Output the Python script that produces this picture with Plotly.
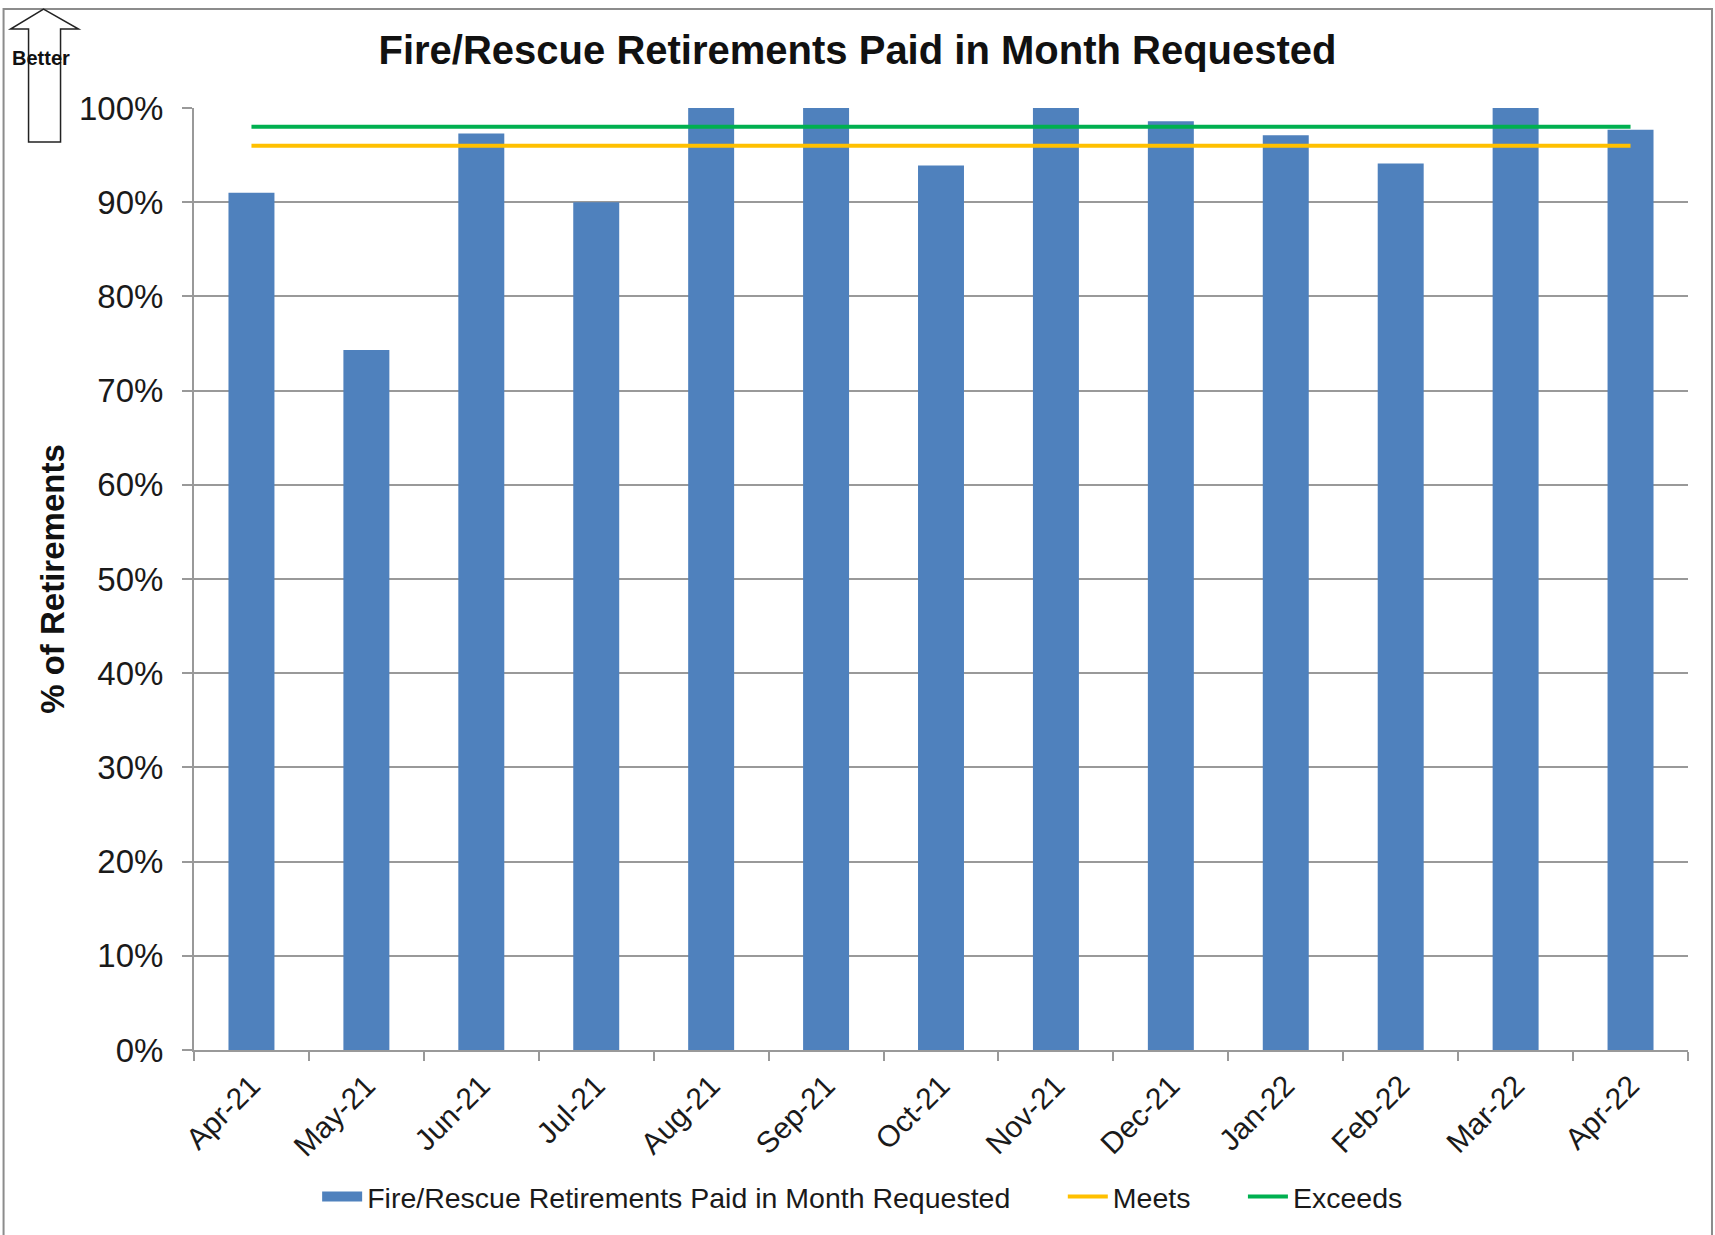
import plotly.graph_objects as go

months = ["Apr-21", "May-21", "Jun-21", "Jul-21", "Aug-21", "Sep-21", "Oct-21",
          "Nov-21", "Dec-21", "Jan-22", "Feb-22", "Mar-22", "Apr-22"]
paid_pct = [0.910, 0.743, 0.973, 0.900, 1.000, 1.000, 0.939,
            1.000, 0.986, 0.971, 0.941, 1.000, 0.977]
meets = [0.96] * len(months)
exceeds = [0.98] * len(months)
y_ticks = [0, 0.1, 0.2, 0.3, 0.4, 0.5, 0.6, 0.7, 0.8, 0.9, 1.0]

BAR_NAME = "Fire/Rescue Retirements Paid in Month Requested"
PAD = "\u00a0" * 6

FONT = "Liberation Sans, Arial, sans-serif"
GRID = "#999999"
BAR_COLOR = "#4F81BD"

# plot area in pixels
L, R, T, B = 193.5, 1688, 108, 1050.5
W, H = R - L, B - T
FIG_W, FIG_H = 1715, 1235


def px(x):
    return (x - L) / W


def py(y):
    return (B - y) / H


fig = go.Figure()
fig.add_trace(go.Bar(
    x=months, y=paid_pct, name=BAR_NAME, showlegend=False,
    marker=dict(color=BAR_COLOR, line=dict(width=0)),
))
# legend entry for the bars (wide rectangle swatch, as in the original)
fig.add_trace(go.Scatter(
    x=[None], y=[None], name=BAR_NAME + PAD, mode="lines",
    line=dict(color=BAR_COLOR, width=14), hoverinfo="skip",
))
fig.add_trace(go.Scatter(
    x=months, y=meets, name="Meets" + PAD, mode="lines",
    line=dict(color="#FFC000", width=4),
))
fig.add_trace(go.Scatter(
    x=months, y=exceeds, name="Exceeds", mode="lines",
    line=dict(color="#00B050", width=4),
))

# "Better" block arrow
pts = [(43, 9), (78, 29), (60, 29), (60, 142), (28, 142), (28, 29), (10, 29)]
path = "M " + " L ".join(f"{px(x):.5f},{py(y):.5f}" for x, y in pts) + " Z"
shapes = [
    dict(type="rect", xref="paper", yref="paper",
         x0=px(3), x1=px(1712), y0=py(1400), y1=py(9),
         line=dict(color="#8c8c8c", width=2), fillcolor="rgba(0,0,0,0)", layer="below"),
    dict(type="path", xref="paper", yref="paper", path=path,
         line=dict(color="#222222", width=1.5), fillcolor="white"),
]

annotations = [
    dict(text="<b>Better</b>", xref="paper", yref="paper", x=px(40), y=py(58),
         showarrow=False, font=dict(family=FONT, size=20, color="#111111"),
         xanchor="center", yanchor="middle"),
    dict(text="<b>% of Retirements</b>", xref="paper", yref="paper", x=px(52.5), y=py(579),
         showarrow=False, textangle=-90, font=dict(family=FONT, size=33, color="#111111"),
         xanchor="center", yanchor="middle"),
]

fig.update_layout(
    width=FIG_W, height=FIG_H, autosize=False,
    margin=dict(l=L, r=FIG_W - R, t=T, b=FIG_H - B, pad=0, autoexpand=False),
    paper_bgcolor="white", plot_bgcolor="white",
    font=dict(family=FONT, color="#1a1a1a"),
    title=dict(text="<b>Fire/Rescue Retirements Paid in Month Requested</b>",
               x=0.5, xref="container", y=1 - 50 / FIG_H, yref="container",
               xanchor="center", yanchor="middle", automargin=False,
               font=dict(family=FONT, size=40, color="#111111")),
    bargap=0.6,
    showlegend=True,
    legend=dict(orientation="h", xref="container", yref="container",
                x=0.503, y=1 - 1197 / FIG_H, xanchor="center", yanchor="middle",
                font=dict(family=FONT, size=28.5, color="#1a1a1a"),
                bgcolor="rgba(0,0,0,0)", itemwidth=40, tracegroupgap=0),
    shapes=shapes,
    annotations=annotations,
)

fig.update_xaxes(
    type="category", showgrid=False, showline=True, linecolor=GRID, linewidth=2,
    ticks="outside", tickson="boundaries", ticklen=9, tickcolor=GRID, tickwidth=2,
    tickangle=-45, tickfont=dict(family=FONT, size=30, color="#1a1a1a"),
    ticklabelstandoff=4, automargin=False,
)
fig.update_yaxes(
    range=[0, 1.0], tickvals=y_ticks, tickformat=".0%",
    showgrid=True, gridcolor=GRID, gridwidth=2,
    showline=True, linecolor=GRID, linewidth=2,
    ticks="outside", ticklen=10, tickcolor=GRID, tickwidth=2,
    tickfont=dict(family=FONT, size=33, color="#1a1a1a"),
    ticklabelstandoff=12, zeroline=False, automargin=False,
)

fig.write_html("out.html", config={"displayModeBar": False},
               post_script="document.body.style.margin='0px';")
